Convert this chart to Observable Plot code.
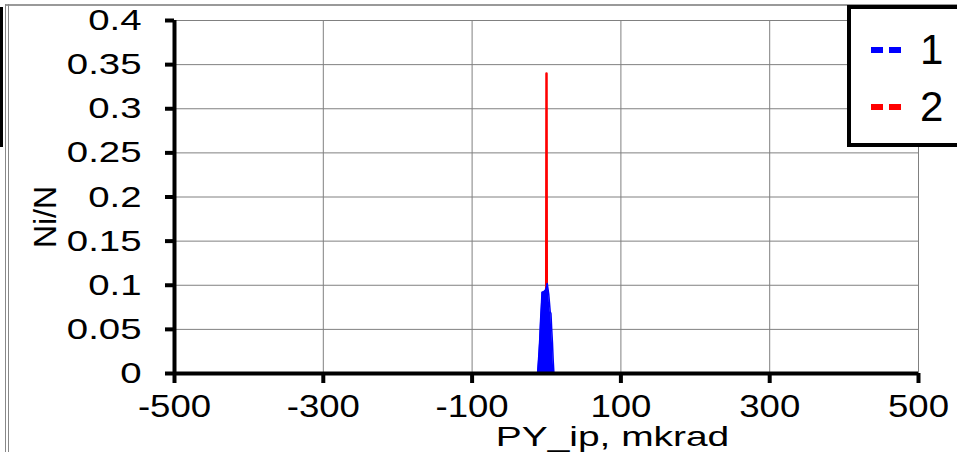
<!DOCTYPE html>
<html>
<head>
<meta charset="utf-8">
<script src="https://cdn.jsdelivr.net/npm/d3@7"></script>
<script src="https://cdn.jsdelivr.net/npm/@observablehq/plot@0.6"></script>
<style>
  html, body { margin: 0; padding: 0; background: #fff; }
  body { width: 957px; height: 452px; overflow: hidden; position: relative; font-family: "Liberation Sans", Arial, sans-serif; }
  #chart { position: absolute; left: 0; top: 0; }
  .frame-top { position: absolute; left: 5px; top: 4px; width: 952px; height: 2px; background: #999; }
  .frame-left1 { position: absolute; left: 5px; top: 4px; width: 1px; height: 448px; background: #888; }
  .frame-left2 { position: absolute; left: 8px; top: 4px; width: 1px; height: 448px; background: #888; }
  .frame-bar { position: absolute; left: 0; top: 7px; width: 3px; height: 140px; background: #000; }
  #legend { position: absolute; left: 847px; top: 5px; width: 120px; height: 134px; border: 4px solid #000; background: #fff; box-sizing: content-box; }
  .leg-item { position: absolute; left: 20px; display: flex; align-items: center; font-size: 42px; line-height: 48px; color: #000; }
  .leg-dash { width: 30px; height: 0; border-top: 6px dashed; margin-right: 19px; }
</style>
</head>
<body>
<div id="chart"></div>
<div class="frame-top"></div>
<div class="frame-left1"></div>
<div class="frame-left2"></div>
<div class="frame-bar"></div>
<div id="legend"></div>
<script>
// Series 1 (blue) histogram
const s1x = [-12, -11, -10, -9, -8, -7, -6, -5, -4, -3, -2, -1, 0, 1, 2, 3, 4, 5, 6, 7, 8, 9, 10];
const s1y = [0, 0.012, 0.025, 0.04, 0.06, 0.075, 0.092, 0.092, 0.093, 0.093, 0.094, 0.095, 0.098, 0.102, 0.096, 0.09, 0.08, 0.07, 0.068, 0.05, 0.035, 0.015, 0];
// Series 2 (red) spike
const s2x = [-0.5, 0, 0.5];
const s2y = [0, 0.34, 0];

const xTicks = [-500, -300, -100, 100, 300, 500];
const yTicks = [0, 0.05, 0.1, 0.15, 0.2, 0.25, 0.3, 0.35, 0.4];
const seriesNames = ["1", "2"];
const seriesColors = ["#0000ff", "#ff0000"];
const xTitle = "PY_ip, mkrad";
const yTitle = "Ni/N";

const d1 = s1x.map((x, i) => ({x, y: s1y[i]}));
const d2 = s2x.map((x, i) => ({x, y: s2y[i]}));

const fmtX = d => String(d);
const fmtY = d => String(+(+d).toFixed(2));

const plot = Plot.plot({
  width: 957,
  height: 452,
  marginLeft: 174,
  marginRight: 39,
  marginTop: 20,
  marginBottom: 79,
  style: { fontFamily: "'Liberation Sans', Arial, sans-serif", fontSize: "30px", color: "#000", background: "transparent", overflow: "visible" },
  x: { domain: [-500, 500], label: null },
  y: { domain: [0, 0.4], label: null },
  marks: [
    Plot.gridX(xTicks, { stroke: "#808080", strokeOpacity: 1, strokeWidth: 1 }),
    Plot.gridY(yTicks, { stroke: "#808080", strokeOpacity: 1, strokeWidth: 1 }),
    Plot.line(d2, { x: "x", y: "y", stroke: seriesColors[1], strokeWidth: 2.5 }),
    Plot.areaY(d1, { x: "x", y: "y", fill: seriesColors[0] }),
    Plot.line(d1, { x: "x", y: "y", stroke: seriesColors[0], strokeWidth: 1.5 }),
    Plot.axisX(xTicks, { tickSize: 10, tickPadding: 11, strokeWidth: 4, stroke: "#000", fontSize: 31, tickFormat: fmtX, label: null }),
    Plot.axisY(yTicks, { tickSize: 9, tickPadding: 24, strokeWidth: 4, stroke: "#000", fontSize: 30, tickFormat: fmtY, label: null }),
    Plot.ruleX([-500], { stroke: "#000", strokeWidth: 4 }),
    Plot.ruleY([0], { stroke: "#000", strokeWidth: 4 }),
    Plot.text([xTitle], { frameAnchor: "bottom", textAnchor: "middle", lineAnchor: "middle", dx: 66, dy: 64, fontSize: 28, fill: "#000", className: "xtitle" }),
    Plot.text([yTitle], { frameAnchor: "left", textAnchor: "middle", lineAnchor: "middle", dx: -129, dy: 20, rotate: -90, fontSize: 32, fill: "#000" })
  ]
});
document.getElementById("chart").appendChild(plot);

// Horizontal stretch of the reference's lettering
function stretch(selector, s) {
  plot.querySelectorAll(selector).forEach(t => {
    const tr = t.getAttribute("transform") || "";
    const x = parseFloat(t.getAttribute("x")) || 0;
    t.setAttribute("transform", `${tr} translate(${x},0) scale(${s},1) translate(${-x},0)`);
  });
}
stretch('g[aria-label="y-axis tick label"] text', 1.28);
stretch('g[aria-label="x-axis tick label"] text', 1.18);
stretch('.xtitle text', 1.39);

const legend = document.getElementById("legend");
seriesNames.forEach((name, i) => {
  const item = document.createElement("div");
  item.className = "leg-item";
  item.style.top = (i === 0 ? 17 : 74) + "px";
  const dash = document.createElement("span");
  dash.className = "leg-dash";
  dash.style.borderTopColor = seriesColors[i];
  const label = document.createElement("span");
  label.textContent = name;
  item.appendChild(dash);
  item.appendChild(label);
  legend.appendChild(item);
});
</script>
</body>
</html>
